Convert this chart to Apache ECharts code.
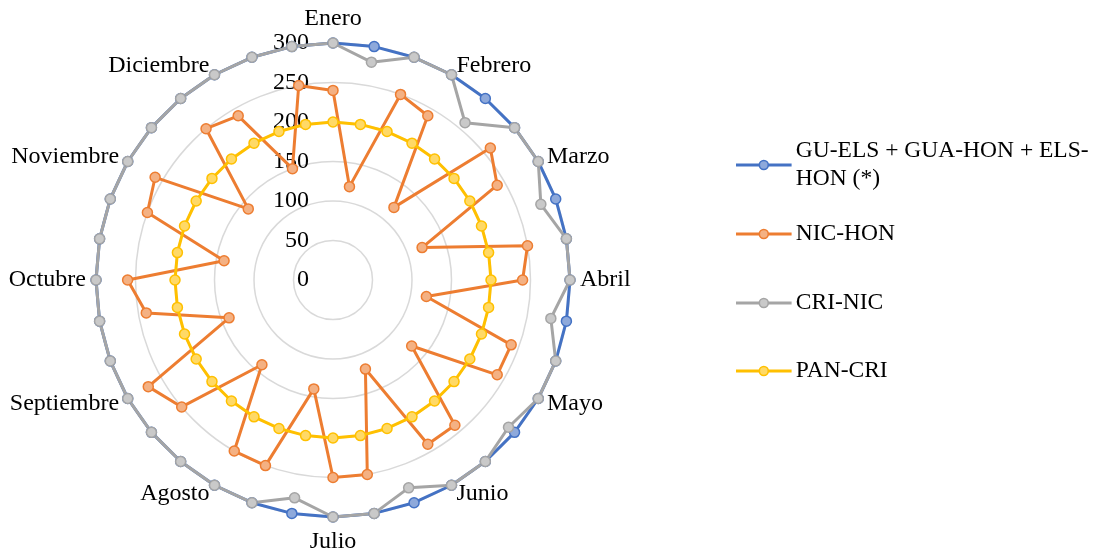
<!DOCTYPE html>
<html>
<head>
<meta charset="utf-8">
<script src="https://cdn.jsdelivr.net/npm/echarts@6/dist/echarts.min.js"></script>
<style>
html,body{margin:0;padding:0;background:#fff;}
#chart{width:1099px;height:553px;}
</style>
</head>
<body>
<div id="chart"></div>
<script>
// Categories: 36 points, month label every 3rd point (clockwise from top)
const categories = ['Enero','','','Febrero','','','Marzo','','','Abril','','','Mayo','','','Junio','','',
  'Julio','','','Agosto','','','Septiembre','','','Octubre','','','Noviembre','','','Diciembre','',''];

const radialTicks = [0, 50, 100, 150, 200, 250, 300];

const seriesNames = ['GU-ELS + GUA-HON + ELS-HON (*)', 'NIC-HON', 'CRI-NIC', 'PAN-CRI'];

const guElsHon = [300,300,300,300,300,300,300,300,300,300,300,300,300,300,300,300,300,300,
  300,300,300,300,300,300,300,300,300,300,300,300,300,300,300,300,300,300];
const nicHon = [240,120,250,240,120,260,240,120,250,240,120,240,240,130,240,240,120,250,
  250,140,250,250,140,250,270,140,240,260,140,250,260,140,250,240,150,250];
const criNic = [300,280,300,300,260,300,300,280,300,300,280,300,300,290,300,300,280,300,
  300,280,300,300,300,300,300,300,300,300,300,300,300,300,300,300,300,300];
const panCri = [200,200,200,200,200,200,200,200,200,200,200,200,200,200,200,200,200,200,
  200,200,200,200,200,200,200,200,200,200,200,200,200,200,200,200,200,200];

const lineColors = ['#4472C4', '#ED7D31', '#A5A5A5', '#FFC000'];
const fillColors = ['#8EA9DB', '#F4B183', '#C9C9C9', '#FFD966'];

// ECharts radar runs counter-clockwise: reorder so the chart reads clockwise
const n = categories.length;
const order = categories.map((_, i) => (n - i) % n);
const reorder = arr => order.map(k => arr[k]);

const FONT = 'Liberation Serif';
const allData = [guElsHon, nicHon, criNic, panCri];

const chart = echarts.init(document.getElementById('chart'), null, {renderer: 'canvas'});

const legendIcon = 'path://M0,4.3H21.5V5.7H0Z M32.5,4.3H54V5.7H32.5Z M31.5,5A4.5,4.5,0,1,1,22.5,5A4.5,4.5,0,1,1,31.5,5Z';
const legendTops = [123, 220, 289, 357];

const option = {
  animation: false,
  backgroundColor: '#fff',
  legend: seriesNames.map((nm, i) => ({
    orient: 'vertical',
    left: 736,
    top: legendTops[i],
    padding: 0,
    itemWidth: 54,
    itemHeight: 10,
    itemGap: 10,
    selectedMode: false,
    formatter: name => name === seriesNames[0] ? 'GU-ELS + GUA-HON + ELS-\nHON (*)' : name,
    textStyle: {
      fontFamily: FONT, fontSize: 23.5, color: '#000', lineHeight: 28,
      padding: i === 0 ? [28, 0, 0, 0] : 0
    },
    data: [{
      name: nm,
      icon: legendIcon,
      itemStyle: {color: fillColors[i], borderColor: lineColors[i], borderWidth: 1.6}
    }]
  })),
  radar: {
    center: [333, 280],
    radius: 237,
    startAngle: 90,
    splitNumber: radialTicks.length - 1,
    shape: 'circle',
    nameGap: 10,
    indicator: reorder(categories).map((c, i) => ({
      name: c,
      min: radialTicks[0],
      max: radialTicks[radialTicks.length - 1],
      axisLabel: {show: i === 0}
    })),
    axisName: {color: '#000', fontFamily: FONT, fontSize: 24, lineHeight: 18, padding: [6, 0, 0, 0]},
    axisLine: {show: false},
    axisTick: {show: false},
    axisLabel: {show: false, margin: 24, color: '#000', fontFamily: FONT, fontSize: 24, padding: [4, 0, 0, 0]},
    splitLine: {lineStyle: {color: '#D9D9D9', width: 1.5}},
    splitArea: {show: false}
  },
  series: seriesNames.map((nm, i) => ({
    type: 'radar',
    name: nm,
    symbol: 'circle',
    symbolSize: 10,
    lineStyle: {color: lineColors[i], width: 3},
    itemStyle: {color: fillColors[i], borderColor: lineColors[i], borderWidth: 1.5},
    data: [{name: nm, value: reorder(allData[i])}]
  }))
};
chart.setOption(option);
</script>
</body>
</html>
